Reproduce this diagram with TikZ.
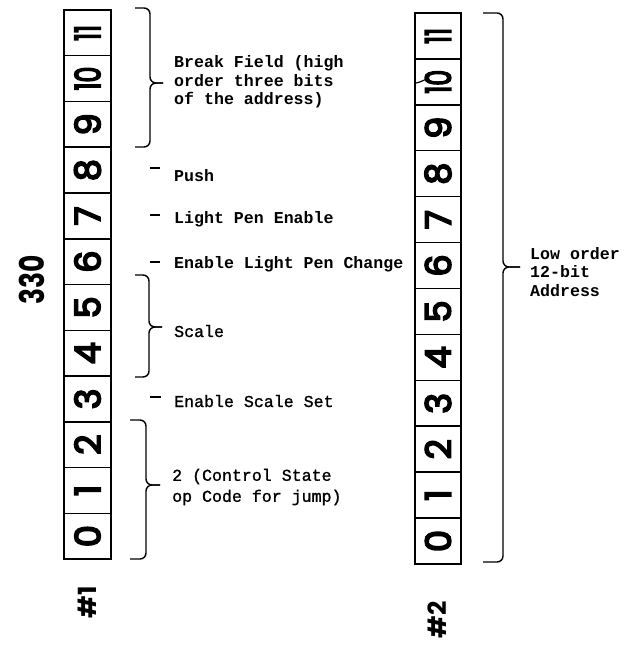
\documentclass[tikz,border=0pt]{standalone}
\usepackage{fontspec}
\usepackage{graphicx}
\setmainfont{Liberation Mono}
\newfontfamily\digitfont{Poppins}[FakeBold=5]
\newfontfamily\numfont{Poppins}
\newfontfamily\labfont{Liberation Mono}
\newfontfamily\lablight{Liberation Mono}[FakeBold=1.2]
\newcommand\celldigit[1]{\ifnum#1>9 \scalebox{0.72}[1]{#1}\else #1\fi}
\begin{document}
\begin{tikzpicture}[x=1pt,y=-1pt,
  cellL/.style={draw, line width=1.5pt, minimum width=47pt, minimum height=45.75pt, inner sep=0pt,
    font=\digitfont\fontsize{35}{35}\selectfont},
  cellR/.style={draw, line width=1.5pt, minimum width=46pt, minimum height=45.92pt, inner sep=0pt,
    font=\digitfont\fontsize{35}{35}\selectfont},
  lab/.style={font=\labfont\bfseries\fontsize{16.6}{18.5}\selectfont, inner sep=0pt, align=left},
  labl/.style={font=\lablight\fontsize{16.6}{21}\selectfont, inner sep=0pt, align=left},
  bracestyle/.style={line width=1.4pt, rounded corners=6pt},
  dashmark/.style={line width=1.4pt},
  bignum/.style={font=\numfont\bfseries\fontsize{34}{34}\selectfont, inner sep=0pt},
  tagnum/.style={font=\numfont\bfseries\fontsize{25}{25}\selectfont, inner sep=0pt}]
\useasboundingbox (0,0) rectangle (628,652);

% register 1
\foreach \k in {0,...,11}
  \node[cellL] (L\k) at (87.5,{559-45.75*(\k+0.5)}) {\rotatebox{90}{\celldigit{\k}}};
% register 2
\foreach \k in {0,...,11}
  \node[cellR] (R\k) at (438,{564-45.92*(\k+0.5)}) {\rotatebox{90}{\celldigit{\k}}};

% stray mark in cell R10
\coordinate (m1) at (416,83);
\coordinate (m2) at (429,78);
\draw[line width=1.2pt] (m1) to[out=10,in=200] (m2);

% side labels
\node[bignum] (n330) at (32,280) {\rotatebox{90}{\scalebox{0.78}[1]{330}}};
\node[tagnum] (t1) at (87,602) {\rotatebox{90}{\#1}};
\node[tagnum] (t2) at (437,620) {\rotatebox{90}{\#2}};

% brace 1: break field
\coordinate (B1t) at (135,8);
\coordinate (B1b) at (135,147);
\coordinate (B1m) at (163,83);
\draw[bracestyle] (B1t) -| ([xshift=-13pt]B1m) -- (B1m);
\draw[bracestyle] (B1b) -| ([xshift=-13pt]B1m) -- (B1m);
\node[lab, anchor=west] (bf) at (174,82) {Break Field (high\\order three bits\\of the address)};

% push etc.
\coordinate (d1a) at (150,168); \coordinate (d1b) at (160,168);
\draw[dashmark] (d1a) -- (d1b);
\node[lab, anchor=base west] (push) at (174,182) {Push};
\coordinate (d2a) at (150,215); \coordinate (d2b) at (160,215);
\draw[dashmark] (d2a) -- (d2b);
\node[lab, anchor=base west] (lpe) at (174,223) {Light Pen Enable};
\coordinate (d3a) at (150,262); \coordinate (d3b) at (160,262);
\draw[dashmark] (d3a) -- (d3b);
\node[lab, anchor=base west] (elpc) at (174,268) {Enable Light Pen Change};

% brace 2: scale
\coordinate (B2t) at (135,275);
\coordinate (B2b) at (135,377);
\coordinate (B2m) at (162,327);
\draw[bracestyle] (B2t) -| ([xshift=-13pt]B2m) -- (B2m);
\draw[bracestyle] (B2b) -| ([xshift=-13pt]B2m) -- (B2m);
\node[labl, anchor=base west] (scale) at (174,337) {Scale};

\coordinate (d4a) at (150,397); \coordinate (d4b) at (161,397);
\draw[dashmark] (d4a) -- (d4b);
\node[labl, anchor=base west] (ess) at (174,407) {Enable Scale Set};

% brace 3: op code
\coordinate (B3t) at (130,420);
\coordinate (B3b) at (130,559);
\coordinate (B3m) at (160,485);
\draw[bracestyle] (B3t) -| ([xshift=-14pt]B3m) -- (B3m);
\draw[bracestyle] (B3b) -| ([xshift=-14pt]B3m) -- (B3m);
\node[labl, anchor=west] (op) at (172,487) {2 (Control State\\op Code for jump)};

% brace 4: address
\coordinate (B4t) at (483,13);
\coordinate (B4b) at (483,562);
\coordinate (B4m) at (520,267);
\draw[bracestyle] (B4t) -| ([xshift=-17pt]B4m) -- (B4m);
\draw[bracestyle] (B4b) -| ([xshift=-17pt]B4m) -- (B4m);
\node[lab, anchor=west] (addr) at (530,272) {Low order\\12-bit\\Address};
\end{tikzpicture}
\end{document}
